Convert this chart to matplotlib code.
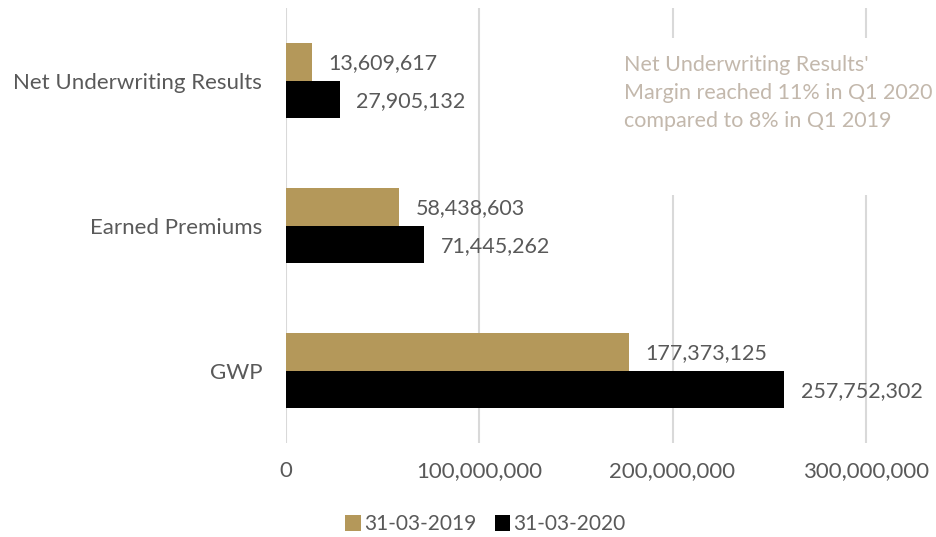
import numpy as np
import matplotlib.pyplot as plt
from matplotlib.patches import Rectangle

plt.rcParams['font.family'] = ['Lato', 'DejaVu Sans']

# Data
categories = ['GWP', 'Earned Premiums', 'Net Underwriting Results']
q1_2019 = [177373125, 58438603, 13609617]
q1_2020 = [257752302, 71445262, 27905132]
series_names = ['31-03-2019', '31-03-2020']
xticks = [0, 100000000, 200000000, 300000000]

gold = '#b4985a'
black = '#000000'
text_grey = '#595959'

fig = plt.figure(figsize=(9.37, 5.37), dpi=100)
ax = fig.add_axes([0.305, 0.175, 0.681, 0.81])

y = np.arange(len(categories))
h = 0.26
b1 = ax.barh(y + h / 2, q1_2019, height=h, color=gold, label=series_names[0], zorder=3)
b2 = ax.barh(y - h / 2, q1_2020, height=h, color=black, label=series_names[1], zorder=3)

for bars, vals in [(b1, q1_2019), (b2, q1_2020)]:
    for bar, v in zip(bars, vals):
        ax.annotate(f'{v:,}', (v, bar.get_y() + bar.get_height() / 2),
                    xytext=(12, -1), textcoords='offset points',
                    va='center', ha='left', fontsize=15.5, color=text_grey)

ax.set_xlim(0, 330000000)
ax.set_ylim(-0.5, 2.5)
ax.set_xticks(xticks)
ax.set_xticklabels([f'{t:,}' for t in xticks])
ax.set_yticks(y)
ax.set_yticklabels(categories)
ax.tick_params(axis='both', length=0, labelsize=16, colors=text_grey)
ax.tick_params(axis='x', pad=13)
ax.tick_params(axis='y', pad=17)
ax.grid(axis='x', color='#d9d9d9', linewidth=1.5, zorder=0.5)
ax.set_axisbelow(True)
for s in ax.spines.values():
    s.set_visible(False)

# white text box that hides the gridlines behind the note
ax.add_patch(Rectangle((0.508, 0.57), 0.5, 0.361, transform=ax.transAxes,
                       facecolor='white', edgecolor='none', zorder=1.5, clip_on=False))
ax.text(0.530, 0.893, "Net Underwriting Results'\nMargin reached 11% in Q1 2020\ncompared to 8% in Q1 2019",
        transform=ax.transAxes, ha='left', va='top', fontsize=15.5,
        color='#c3b8ac', linespacing=1.52, zorder=2)

fig.legend(loc='lower center', bbox_to_anchor=(0.518, -0.03), ncol=2, frameon=False,
           fontsize=15, handlelength=0.75, handleheight=0.75, handletextpad=0.15,
           columnspacing=0.9, labelcolor=text_grey)

fig.savefig('out.png', dpi=100)
